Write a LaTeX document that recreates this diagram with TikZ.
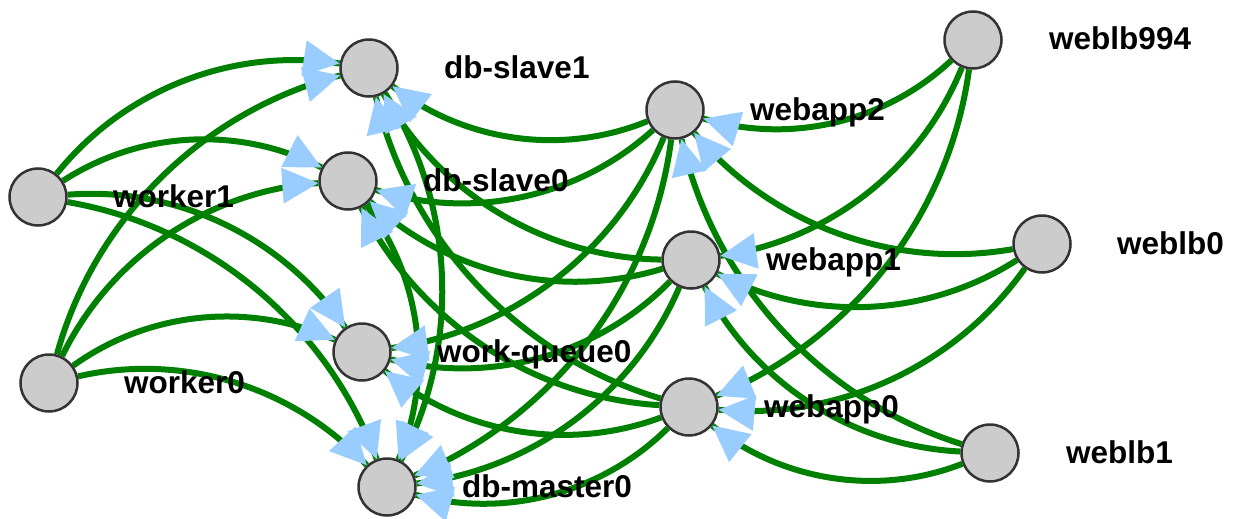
\documentclass[tikz,border=0pt]{standalone}
\usepackage{fontspec}
\setmainfont{Liberation Sans}
\usetikzlibrary{decorations.markings}

\definecolor{linkgreen}{HTML}{008000}
\definecolor{tipblue}{HTML}{99CCFF}
\definecolor{hostfill}{HTML}{CCCCCC}
\definecolor{hostline}{HTML}{333333}

\pgfdeclarelayer{links}
\pgfdeclarelayer{tips}
\pgfsetlayers{links,tips,main}

\begin{document}
\begin{tikzpicture}[x=1pt, y=-1pt,
  host/.style={circle, draw=hostline, fill=hostfill, line width=2.5pt,
    minimum size=57pt, inner sep=0pt},
  hostlabel/.style={anchor=base west, inner sep=0pt,
    font=\fontsize{31.5}{36}\selectfont\bfseries},
  link/.style={draw=linkgreen, line width=6pt},
  linktip/.style={postaction={decorate, decoration={markings,
    mark=at position 0.9999 with {\fill[tipblue] (0,0) -- (-36pt,18pt) -- (-36pt,-18pt) -- cycle;}}}},
  bendarc/.style={bend left=30, looseness=0.91}
]
\useasboundingbox (0,0) rectangle (1236,519);

% hosts
\node[host] (worker1)    at (38,197)  {};
\node[host] (worker0)    at (49,383)  {};
\node[host] (dbslave1)   at (369,68)  {};
\node[host] (dbslave0)   at (348,181) {};
\node[host] (workqueue0) at (362,352) {};
\node[host] (dbmaster0)  at (387,487) {};
\node[host] (webapp2)    at (675,110) {};
\node[host] (webapp1)    at (691,260) {};
\node[host] (webapp0)    at (689,407) {};
\node[host] (weblb994)   at (973,40)  {};
\node[host] (weblb0)     at (1042,244) {};
\node[host] (weblb1)     at (990,453) {};

% host names
\node[hostlabel] (worker1-name)    at (113,207)  {worker1};
\node[hostlabel] (worker0-name)    at (124,393)  {worker0};
\node[hostlabel] (dbslave1-name)   at (444,78)   {db-slave1};
\node[hostlabel] (dbslave0-name)   at (423,191)  {db-slave0};
\node[hostlabel] (workqueue0-name) at (437,362)  {work-queue0};
\node[hostlabel] (dbmaster0-name)  at (462,497)  {db-master0};
\node[hostlabel] (webapp2-name)    at (750,120)  {webapp2};
\node[hostlabel] (webapp1-name)    at (766,270)  {webapp1};
\node[hostlabel] (webapp0-name)    at (764,417)  {webapp0};
\node[hostlabel] (weblb994-name)   at (1049,50)  {weblb994};
\node[hostlabel] (weblb0-name)     at (1117,254) {weblb0};
\node[hostlabel] (weblb1-name)     at (1066,463) {weblb1};

% dependencies
\foreach \s/\t in {
  worker1/dbslave1, worker1/dbslave0, worker1/workqueue0, worker1/dbmaster0,
  worker0/dbslave1, worker0/dbslave0, worker0/workqueue0, worker0/dbmaster0,
  dbslave1/dbmaster0, dbslave0/dbmaster0,
  webapp2/dbslave1, webapp2/dbslave0, webapp2/workqueue0, webapp2/dbmaster0,
  webapp1/dbslave1, webapp1/dbslave0, webapp1/workqueue0, webapp1/dbmaster0,
  webapp0/dbslave1, webapp0/dbslave0, webapp0/workqueue0, webapp0/dbmaster0,
  weblb994/webapp2, weblb994/webapp1, weblb994/webapp0,
  weblb0/webapp2, weblb0/webapp1, weblb0/webapp0,
  weblb1/webapp2, weblb1/webapp1, weblb1/webapp0}{
  \begin{pgfonlayer}{links}
    \draw[link] (\s) to[bendarc] (\t);
  \end{pgfonlayer}
  \begin{pgfonlayer}{tips}
    \path[linktip] (\s) to[bendarc] (\t);
  \end{pgfonlayer}
}
\end{tikzpicture}
\end{document}
